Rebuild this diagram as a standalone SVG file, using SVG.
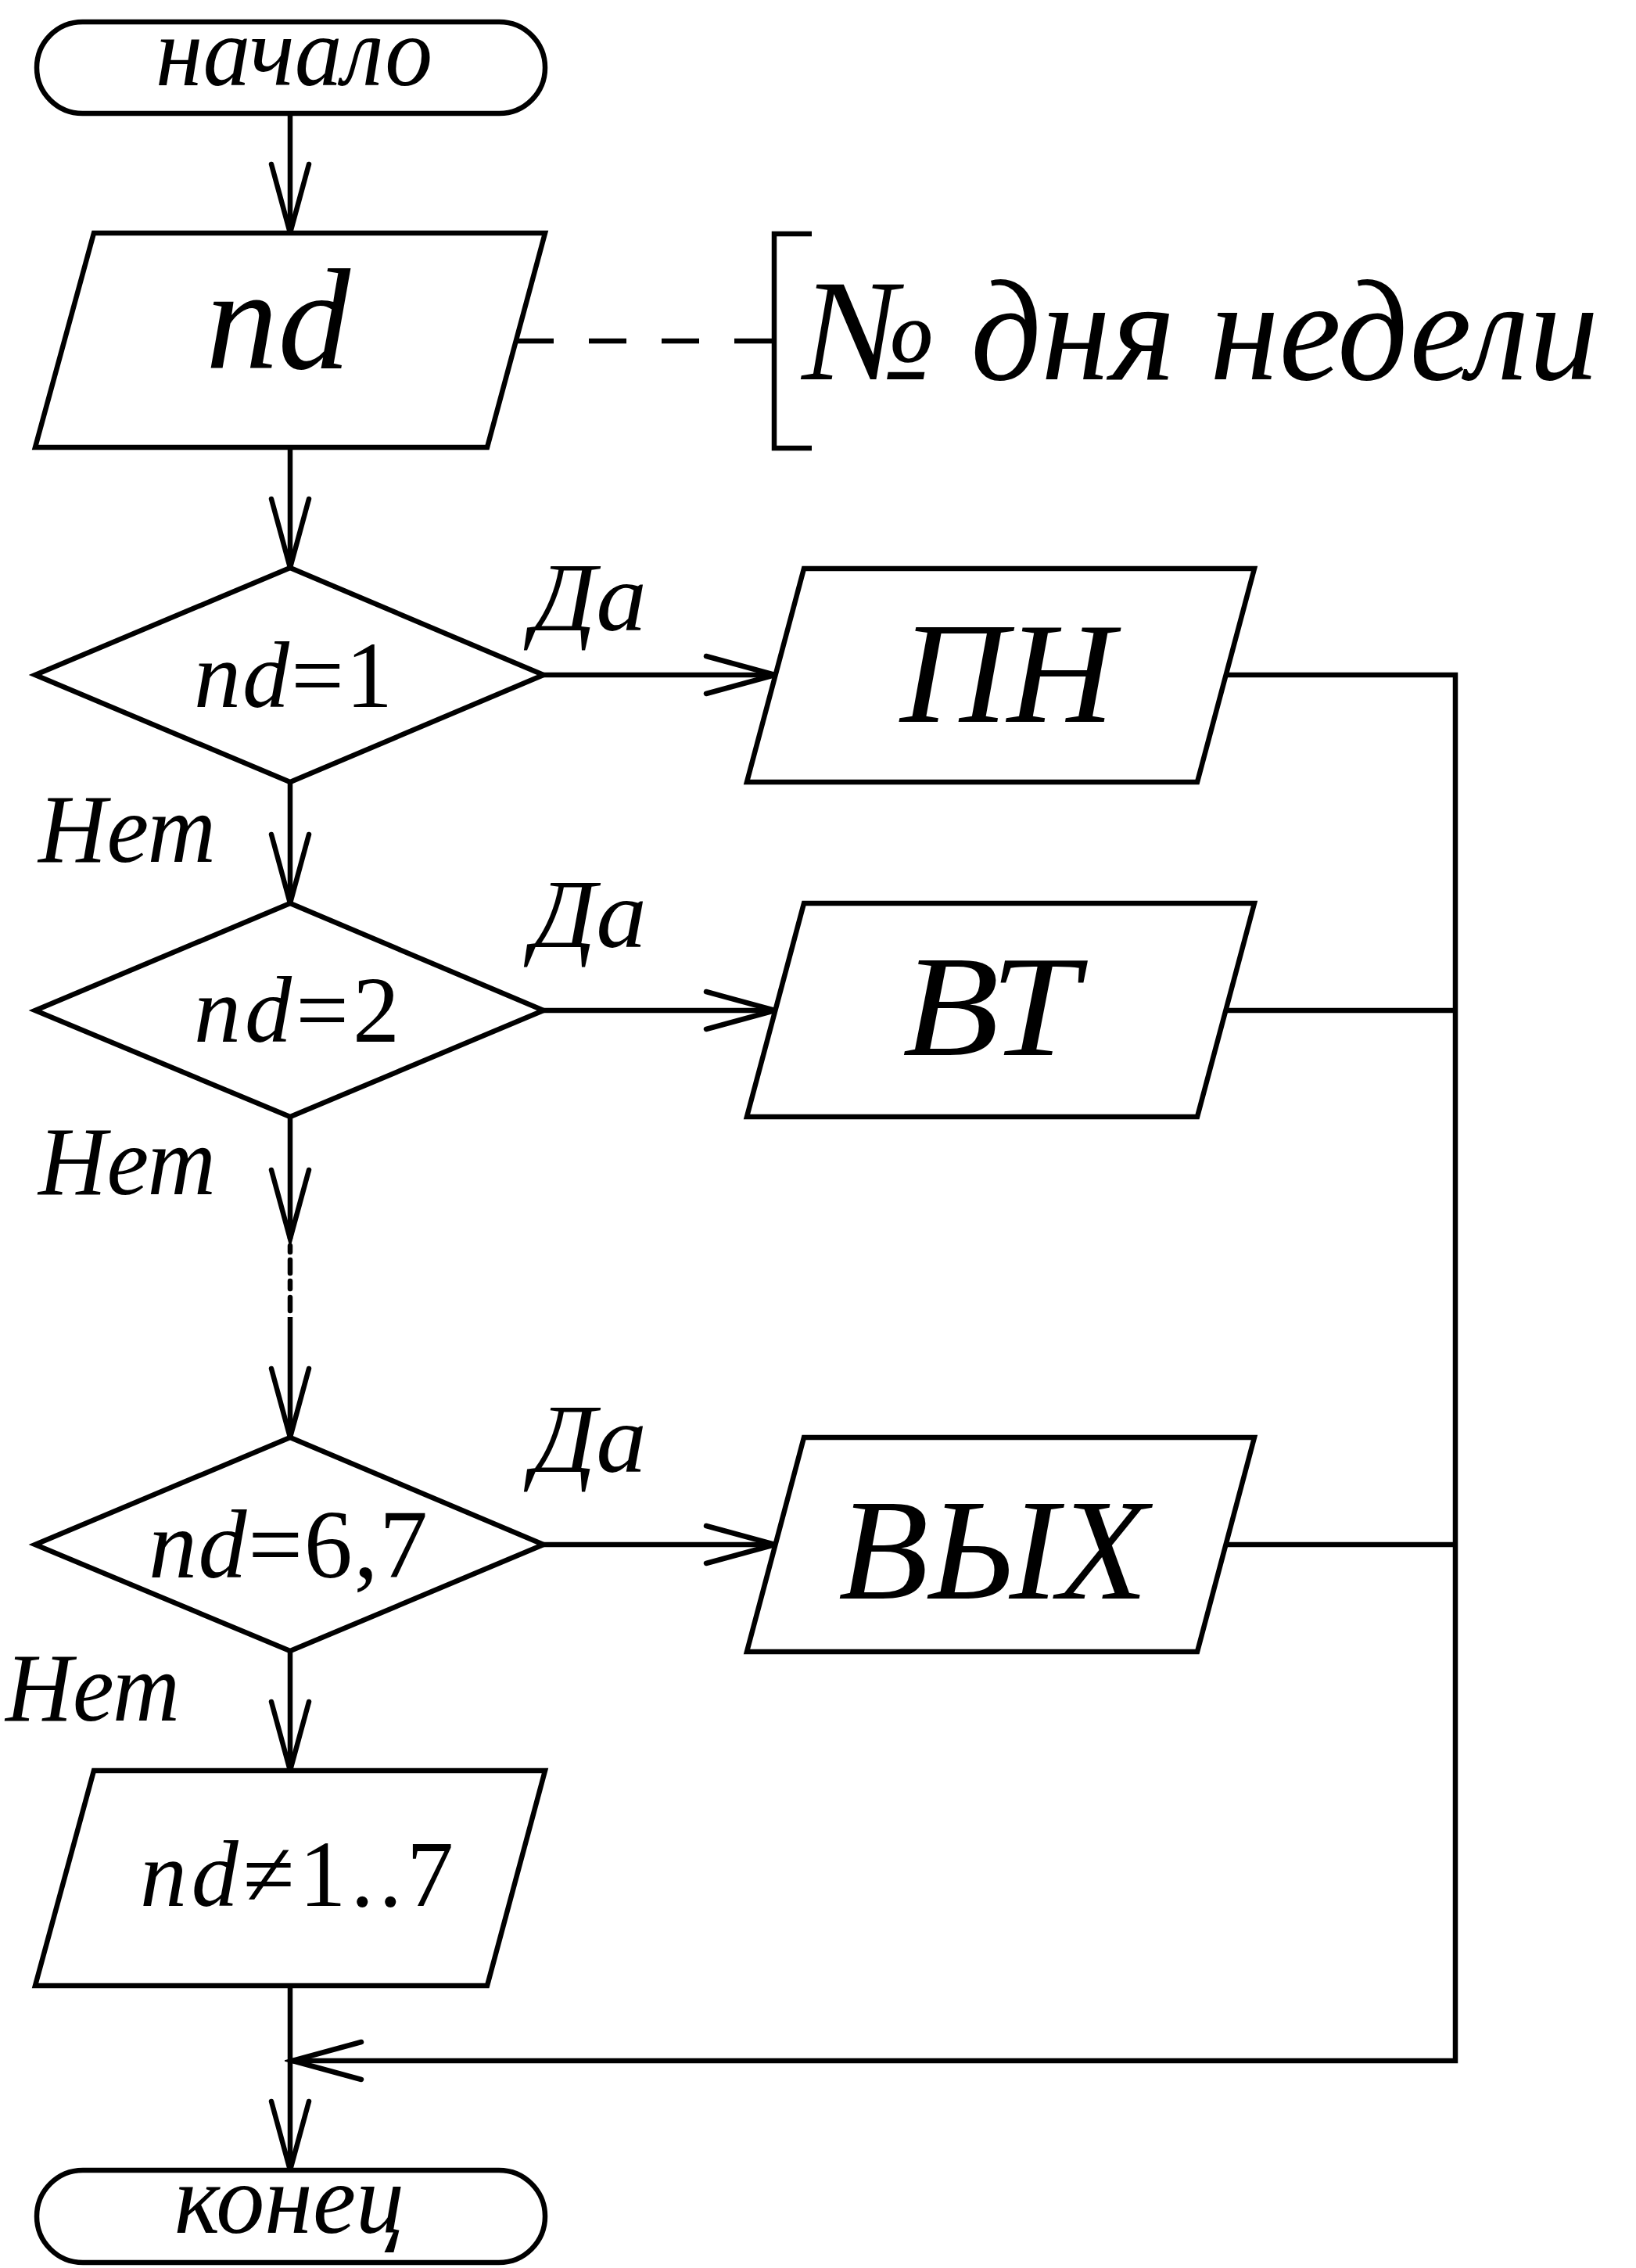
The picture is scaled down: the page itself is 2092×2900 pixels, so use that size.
<svg xmlns="http://www.w3.org/2000/svg" width="2092" height="2900" viewBox="0 0 2092 2900">
<style>
.s{fill:none;stroke:#000;stroke-width:6.5;stroke-linejoin:miter;stroke-linecap:butt}
.n{fill:#fff;stroke:#000;stroke-width:6.5;stroke-linejoin:miter}
.t{font-family:"Liberation Serif","Times New Roman",serif;fill:#000}
.i{font-style:italic}
</style>
<defs>
<marker id="a" markerUnits="userSpaceOnUse" markerWidth="110" markerHeight="70" viewBox="-100 -35 110 70" refX="0" refY="0" orient="auto">
<path d="M-88,-24 L0,0 L-88,24" fill="none" stroke="#000" stroke-width="6.5" stroke-linecap="round" stroke-linejoin="miter"/>
</marker>
</defs>
<rect width="2092" height="2900" fill="#fff"/>
<g id="connectors">
<line class="s" x1="371" y1="145" x2="371" y2="298" marker-end="url(#a)"/>
<line class="s" x1="371" y1="572" x2="371" y2="726" marker-end="url(#a)"/>
<line class="s" x1="371" y1="1000" x2="371" y2="1155" marker-end="url(#a)"/>
<line class="s" x1="371" y1="1428" x2="371" y2="1584" marker-end="url(#a)"/>
<path class="s" style="stroke-linecap:round" d="M371,1593 V1601 M371,1611 V1628 M371,1638 V1648 M371,1659 V1676"/>
<line class="s" x1="371" y1="1684" x2="371" y2="1838" marker-end="url(#a)"/>
<line class="s" x1="371" y1="2111" x2="371" y2="2264" marker-end="url(#a)"/>
<line class="s" x1="371" y1="2539" x2="371" y2="2775" marker-end="url(#a)"/>
<line class="s" x1="695" y1="863" x2="991" y2="863" marker-end="url(#a)"/>
<line class="s" x1="695" y1="1292" x2="991" y2="1292" marker-end="url(#a)"/>
<line class="s" x1="695" y1="1975" x2="991" y2="1975" marker-end="url(#a)"/>
<path class="s" d="M1568,863 H1861 V2635 H374" marker-end="url(#a)"/>
<line class="s" x1="1568" y1="1292" x2="1861" y2="1292"/>
<line class="s" x1="1568" y1="1975" x2="1861" y2="1975"/>
<line class="s" x1="660" y1="436" x2="988" y2="436" stroke-dasharray="48 45"/>
<text class="t i" x="680" y="806" font-size="125" textLength="147" lengthAdjust="spacingAndGlyphs">Да</text>
<text class="t i" x="680" y="1211" font-size="125" textLength="147" lengthAdjust="spacingAndGlyphs">Да</text>
<text class="t i" x="680" y="1882" font-size="125" textLength="147" lengthAdjust="spacingAndGlyphs">Да</text>
<text class="t i" x="49" y="1102" font-size="125" textLength="227" lengthAdjust="spacingAndGlyphs">Нет</text>
<text class="t i" x="49" y="1527" font-size="125" textLength="227" lengthAdjust="spacingAndGlyphs">Нет</text>
<text class="t i" x="7" y="2200" font-size="125" textLength="223" lengthAdjust="spacingAndGlyphs">Нет</text>
</g>
<g id="start">
<rect class="n" x="47" y="28" width="650" height="117" rx="58.5" ry="58.5"/>
<text class="t i" x="199" y="109" font-size="128" textLength="354" lengthAdjust="spacingAndGlyphs">начало</text>
</g>
<g id="input-nd">
<polygon class="n" points="120,298 697,298 623,572 45,572"/>
<text class="t i" x="263" y="471" font-size="185">nd</text>
</g>
<g id="comment">
<path class="s" d="M1038,299 H990 V573 H1038"/>
<text class="t i" x="1029" y="485" font-size="185" textLength="1015" lengthAdjust="spacingAndGlyphs">№ дня недели</text>
</g>
<g id="cond1">
<polygon class="n" points="371,726 695,863 371,1000 45,863"/>
<text class="t" x="248" y="904" font-size="120" textLength="254" lengthAdjust="spacing"><tspan class="i">nd</tspan>=1</text>
</g>
<g id="out-pn">
<polygon class="n" points="1028,727 1604,727 1531,1000 955,1000"/>
<text class="t i" x="1151" y="923" font-size="185" textLength="274" lengthAdjust="spacingAndGlyphs">ПН</text>
</g>
<g id="cond2">
<polygon class="n" points="371,1155 695,1292 371,1428 45,1292"/>
<text class="t" x="248" y="1332" font-size="120" textLength="263" lengthAdjust="spacing"><tspan class="i">nd</tspan>=2</text>
</g>
<g id="out-vt">
<polygon class="n" points="1028,1155 1604,1155 1531,1428 955,1428"/>
<text class="t i" x="1154" y="1349" font-size="185" textLength="225" lengthAdjust="spacingAndGlyphs">ВТ</text>
</g>
<g id="cond3">
<polygon class="n" points="371,1838 695,1975 371,2111 45,1975"/>
<text class="t" x="190" y="2017" font-size="124" textLength="357" lengthAdjust="spacing"><tspan class="i">nd</tspan>=6,7</text>
</g>
<g id="out-vyh">
<polygon class="n" points="1028,1838 1604,1838 1531,2112 955,2112"/>
<text class="t i" x="1072" y="2044" font-size="185" textLength="396" lengthAdjust="spacingAndGlyphs">ВЫХ</text>
</g>
<g id="out-err">
<polygon class="n" points="120,2264 697,2264 623,2539 45,2539"/>
<text class="t" x="179" y="2437" font-size="120" textLength="401" lengthAdjust="spacing"><tspan class="i">nd</tspan>≠1..7</text>
</g>
<g id="end">
<rect class="n" x="47" y="2775" width="650" height="118" rx="59" ry="59"/>
<text class="t i" x="223" y="2855" font-size="128" textLength="294" lengthAdjust="spacingAndGlyphs">конец</text>
</g>
</svg>
